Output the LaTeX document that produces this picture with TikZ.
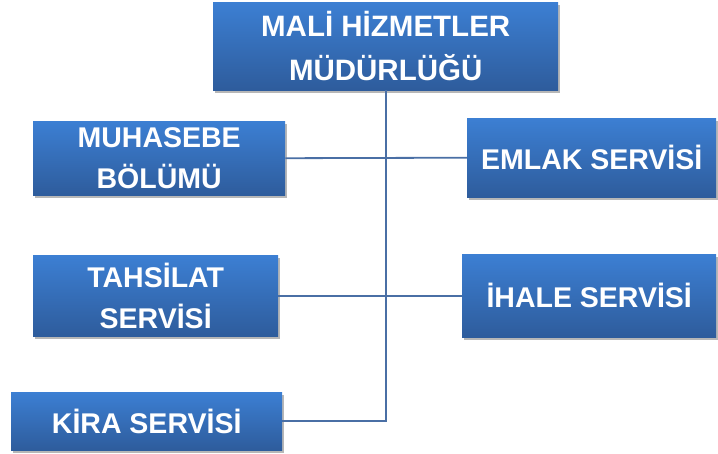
\documentclass[tikz,border=0pt]{standalone}
\usepackage{fontspec}
\setmainfont{Liberation Sans}
\usetikzlibrary{shadows}
\definecolor{boxtop}{HTML}{3C7FD3}
\definecolor{boxbot}{HTML}{2E5C9C}
\definecolor{linec}{HTML}{4A6FA5}
\tikzset{
  orgbox/.style={draw=none, top color=boxtop, bottom color=boxbot, inner sep=0pt,
    anchor=north west, align=center, text=white,
    font=\fontsize{28.5}{41}\selectfont\bfseries,
    drop shadow={shadow xshift=2pt, shadow yshift=-3pt, opacity=0.4, fill=black!70}},
  conn/.style={draw=linec, line width=1.8pt}
}
\begin{document}
\begin{tikzpicture}[x=1pt,y=-1pt]
\useasboundingbox (0,0) rectangle (718,453);
\node[orgbox, minimum width=345pt, minimum height=88pt, font=\fontsize{29.5}{44}\selectfont\bfseries] (top) at (213,2) {MALİ HİZMETLER\\MÜDÜRLÜĞÜ};
\node[orgbox, minimum width=252pt, minimum height=74pt] (muh) at (33,121) {MUHASEBE\\BÖLÜMÜ};
\node[orgbox, minimum width=249pt, minimum height=79pt] (emlak) at (467,118) {EMLAK SERVİSİ};
\node[orgbox, minimum width=245pt, minimum height=81pt] (tah) at (33,255) {TAHSİLAT\\SERVİSİ};
\node[orgbox, minimum width=254pt, minimum height=83pt] (ihale) at (462,254) {İHALE SERVİSİ};
\node[orgbox, minimum width=271pt, minimum height=58pt] (kira) at (11,392) {KİRA SERVİSİ};
\draw[conn] (top.south) -- (kira.east -| top.south) -- (kira.east);
\draw[conn] (muh.east) -- (emlak.west);
\draw[conn] (tah.east) -- (ihale.west);
\end{tikzpicture}
\end{document}
